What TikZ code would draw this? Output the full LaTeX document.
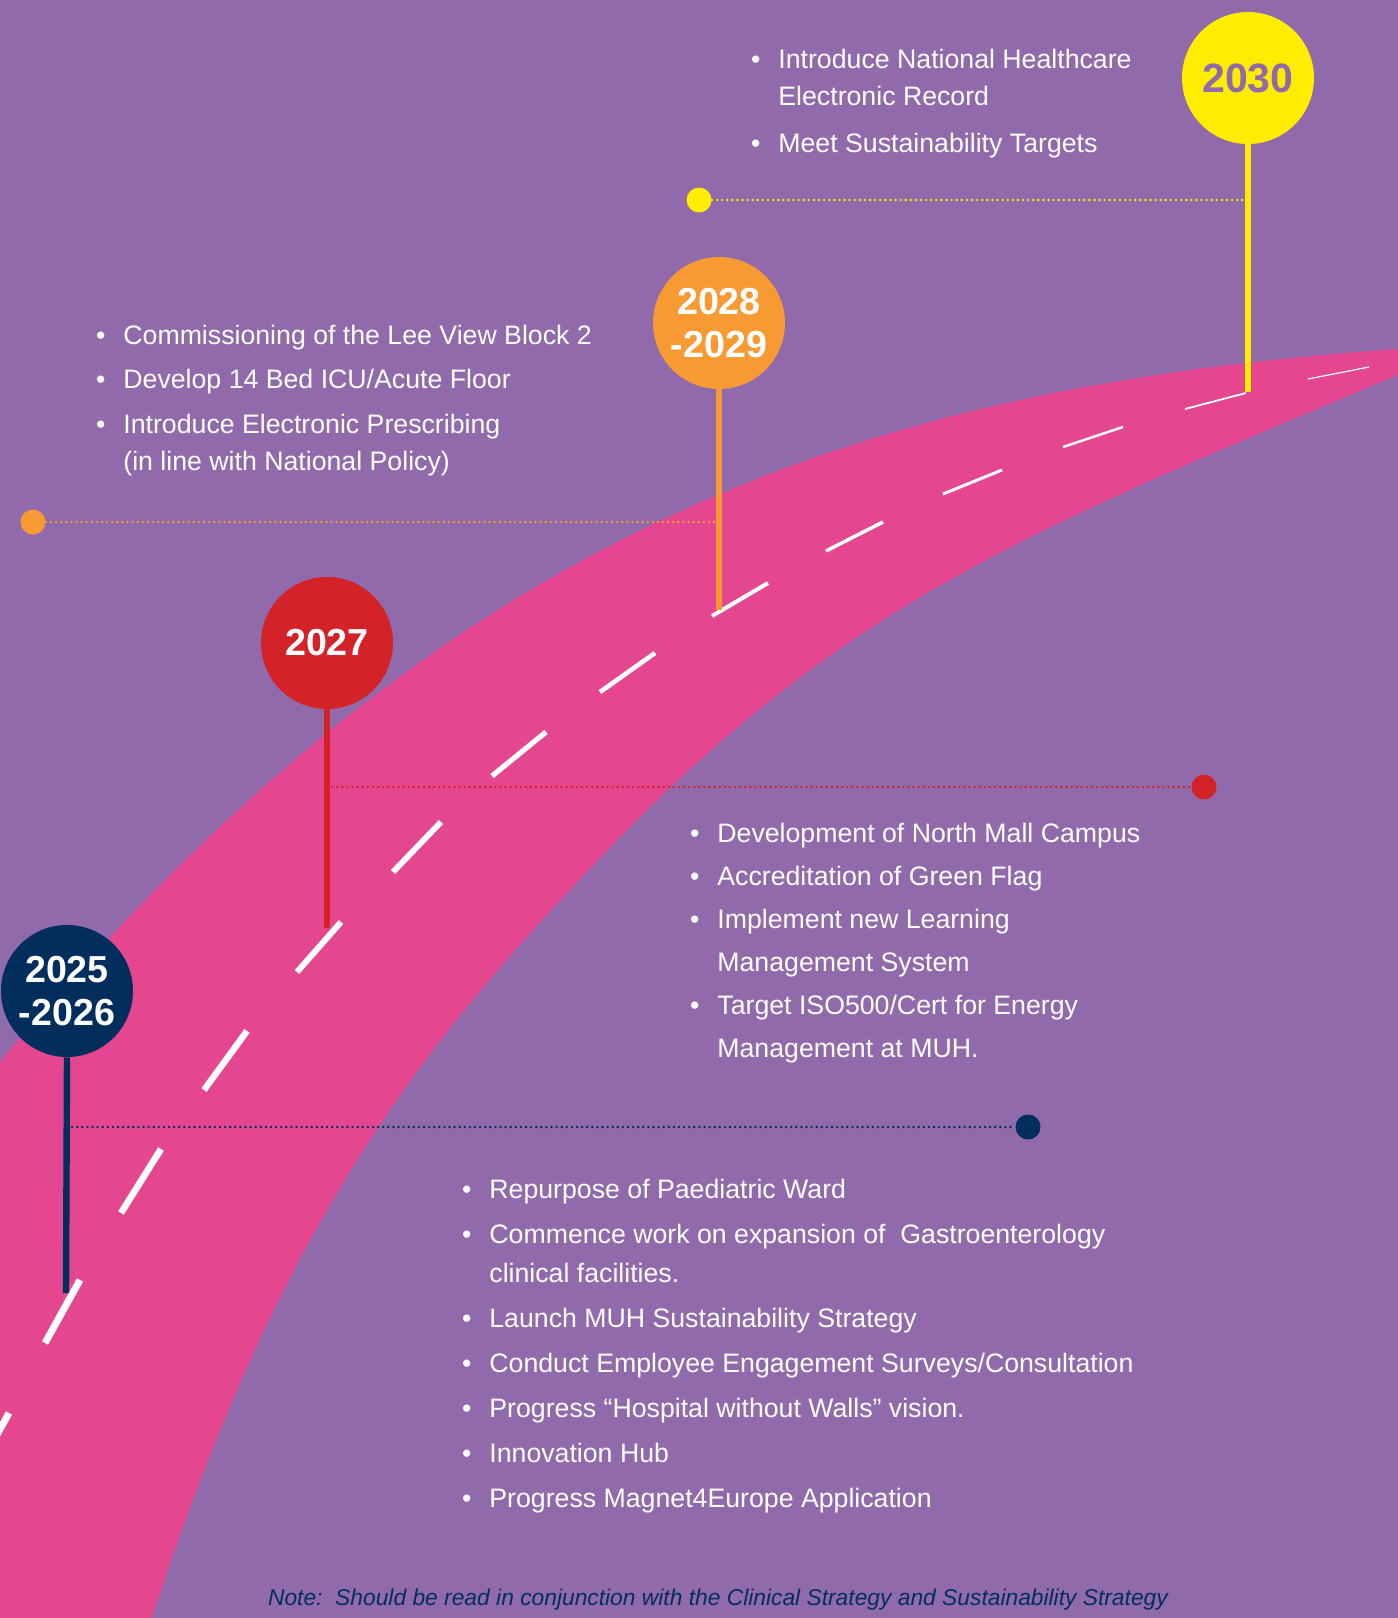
\documentclass[tikz,border=0pt]{standalone}
\usepackage{fontspec}
\setmainfont{Liberation Sans}

\definecolor{bgpurple}{RGB}{145,106,171}
\definecolor{roadpink}{RGB}{228,71,144}
\definecolor{mkyellow}{RGB}{255,237,0}
\definecolor{mkorange}{RGB}{247,154,51}
\definecolor{mkred}{RGB}{212,35,40}
\definecolor{mknavy}{RGB}{2,46,93}

\newcommand{\blt}{\makebox[0pt][r]{\textbullet\hspace{9pt}}\rule{0pt}{10pt}}

\tikzset{
    year/.style={circle, fill=#1, minimum size=66pt, inner sep=0pt, text=white,
        align=center, font=\fontsize{18.8}{21.5}\selectfont\bfseries},
    pole/.style={draw=#1, line width=3.2pt},
    flagdot/.style={circle, fill=#1, minimum size=12.5pt, inner sep=0pt},
    dotline/.style={draw=#1, line width=1.35pt, line cap=round, dash pattern=on 0pt off 2.55pt},
    items/.style={anchor=north west, inner sep=0pt, text=white, align=left,
        font=\fontsize{13.35}{#1}\selectfont},
    lane/.style={white, line width=#1},
}

\begin{document}
\begin{tikzpicture}[x=0.5pt, y=-0.5pt]
            \useasboundingbox (0,0) rectangle (1398,1618);
            \fill[bgpurple] (0,0) rectangle (1398,1618);

            % road and its centre line
            \begin{scope}
                \clip (0,0) rectangle (1398,1618);
                \fill[roadpink] (0,1062) .. controls (440,534) and (848,387.5) .. (1398,349)
                    -- (1420,349) -- (1420,375) -- (1398,375)
                    .. controls (1018,534.6) and (840,606) .. (600,858)
                    .. controls (430,1036.5) and (282,1215) .. (152,1618)
                    -- (0,1618) -- cycle;
                \foreach \xa/\ya/\xb/\yb/\w in {-26/1476/9/1413/3.5pt, 45/1343/80/1280/3.5pt,
                        121/1213/161/1149/3.3pt, 204/1090/247/1031/3.2pt, 297/972/341/922/3pt,
                        393/872/441/822/2.9pt, 492/776/546/732/2.6pt, 600/692/655/653/2.3pt,
                        712/616/768/583/2pt, 826/551/883/522/1.75pt, 943/494/1002/470/1.5pt,
                        1063/447/1123/427/1.2pt, 1185/409/1246/393/0.9pt, 1308/379/1369/367/0.6pt}
                    \draw[lane=\w] (\xa,\ya) -- (\xb,\yb);
            \end{scope}

            % milestones
            \node[year=mknavy] (y2025) at (67,991) {2025\\-2026};
            \node[year=mkred] (y2027) at (327,643) {2027};
            \node[year=mkorange] (y2028) at (719,323) {2028\\-2029};
            \node[year=mkyellow, text=bgpurple, font=\fontsize{20.5}{22}\selectfont\bfseries] (y2030) at (1248,78) {2030};

            \coordinate (e2025) at (66,1293);
            \coordinate (e2027) at (327,928);
            \coordinate (e2028) at (719,610);
            \coordinate (e2030) at (1248,392);

            \draw[pole=mknavy] (y2025.south) -- (e2025);
            \draw[pole=mkred] (y2027.south) -- (e2027);
            \draw[pole=mkorange] (y2028.south) -- (e2028);
            \draw[pole=mkyellow] (y2030.south) -- (e2030);

            \node[flagdot=mknavy] (d2025) at (1028,1127) {};
            \node[flagdot=mkred] (d2027) at (1204,787) {};
            \node[flagdot=mkorange] (d2028) at (33,522) {};
            \node[flagdot=mkyellow] (d2030) at (699,200) {};

            \draw[dotline=mknavy] (y2025 |- d2025) -- (d2025.west);
            \draw[dotline=mkred] (y2027 |- d2027) -- (d2027.west);
            \draw[dotline=mkorange] (d2028.east) -- (y2028 |- d2028);
            \draw[dotline=mkyellow] (d2030.east) -- (y2030 |- d2030);

            % goals for each period
            \node[items=18.5pt] (t2030) at (778,48) {\blt Introduce National Healthcare\\
                Electronic Record\\[5pt]
                \blt Meet Sustainability Targets};
            \node[items=18.5pt] (t2028) at (123,324) {\blt Commissioning of the Lee View Block 2\\[3.75pt]
                \blt Develop 14 Bed ICU/Acute Floor\\[3.75pt]
                \blt Introduce Electronic Prescribing\\
                (in line with National Policy)};
            \node[items=21.5pt] (t2027) at (717,822) {\blt Development of North Mall Campus\\
                \blt Accreditation of Green Flag\\
                \blt Implement new Learning\\
                Management System\\
                \blt Target ISO500/Cert for Energy\\
                Management at MUH.};
            \node[items=19.5pt] (t2025) at (489,1178) {\blt Repurpose of Paediatric Ward\\[3pt]
                \blt Commence work on expansion of\ \ Gastroenterology\\
                clinical facilities.\\[3pt]
                \blt Launch MUH Sustainability Strategy\\[3pt]
                \blt Conduct Employee Engagement Surveys/Consultation\\[3pt]
                \blt Progress “Hospital without Walls” vision.\\[3pt]
                \blt Innovation Hub\\[3pt]
                \blt Progress Magnet4Europe Application};

            \node[anchor=base, text=mknavy, font=\fontsize{11.4}{13}\selectfont\itshape] (note) at (718,1605)
                {Note:\ \ Should be read in conjunction with the Clinical Strategy and Sustainability Strategy};
        \end{tikzpicture}
\end{document}
